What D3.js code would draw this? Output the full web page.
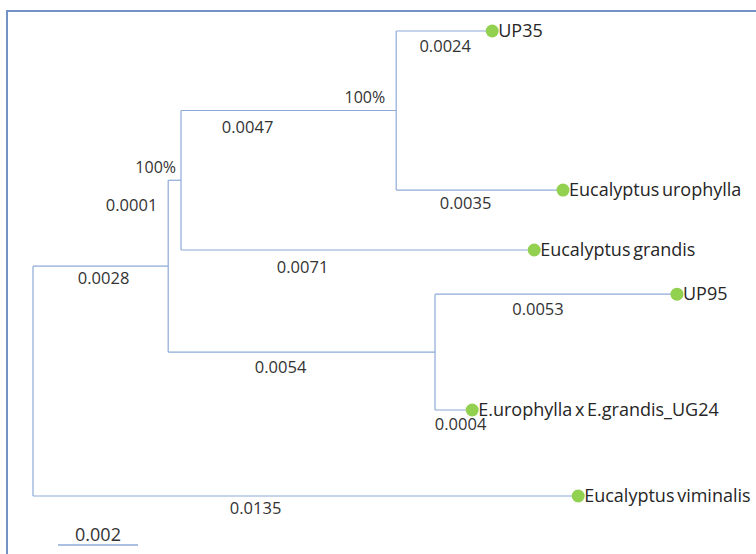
<!DOCTYPE html>
<html>
<head>
<meta charset="utf-8">
<script src="https://cdn.jsdelivr.net/npm/d3@7"></script>
<style>
  html, body { margin: 0; padding: 0; background: #ffffff; }
  svg { display: block; }
</style>
</head>
<body>
<svg id="chart" width="756" height="554"></svg>
<script>
// ---------------- DATA ----------------
// tree nodes (internal + leaves)
const nodeIds      = ["root", "A", "B", "C", "UP35", "Eucalyptus urophylla", "Eucalyptus grandis", "D", "UP95", "E.urophylla x E.grandis_UG24", "Eucalyptus viminalis"];
const parentIds    = ["",     "root", "A", "B", "C", "C", "B", "A", "D", "D", "root"];
// branch length labels as printed on the tree
const branchLength = [null, 0.0028, 0.0001, 0.0047, 0.0024, 0.0035, 0.0071, 0.0054, 0.0053, 0.0004, 0.0135];
// distance from root as drawn in the picture (substitutions/site)
const drawnDepth   = [0, 0.00338, 0.0037, 0.00908, 0.01148, 0.01325, 0.01253, 0.01005, 0.0161, 0.01098, 0.01363];
// bootstrap support
const bootstrap    = [null, null, "100%", "100%", null, null, null, null, null, null, null];
// vertical row of each leaf as drawn (0 = top, 10 = bottom)
const leafNames    = ["UP35", "Eucalyptus urophylla", "Eucalyptus grandis", "UP95", "E.urophylla x E.grandis_UG24", "Eucalyptus viminalis"];
const leafRow      = [0, 3.42, 4.71, 5.66, 8.15, 10];
// scale bar
const scaleBarValue = 0.002;
const scaleBarLabel = "0.002";

// ---------------- LAYOUT / STYLE ----------------
const W = 756, H = 554;
const lineColor = "#8eaad8";
const frameColor = "#7393c6";
const dotColor = "#92d050";
const textColor = "#333333";
const font = "'Open Sans', Lato, sans-serif";

// label nudges (px) for branch-length labels: dx from branch midpoint, dy below branch
const nudge = {
  "A": [3, 12], "B": [-43, 25], "C": [-41, 17], "UP35": [1, 15],
  "Eucalyptus urophylla": [-14, 13], "Eucalyptus grandis": [-55, 17],
  "D": [-21, 15], "UP95": [-18, 15], "E.urophylla x E.grandis_UG24": [7, 14],
  "Eucalyptus viminalis": [-50, 12]
};
const bootNudge = { "B": [-5, -13], "C": [-11, -13] };

const x = d3.scaleLinear().domain([0, 0.0161]).range([33, 677]);
const y = d3.scaleLinear().domain([0, 10]).range([31, 496]);

const table = nodeIds.map((id, i) => ({
  id, parent: parentIds[i] || null, bl: branchLength[i], depth: drawnDepth[i], boot: bootstrap[i]
}));
const root = d3.stratify().id(d => d.id).parentId(d => d.parent)(table);

// leaf ordering/position
const rowOf = new Map(leafNames.map((n, i) => [n, leafRow[i]]));
root.eachAfter(n => {
  n.px = x(n.data.depth);
  if (!n.children) n.py = y(rowOf.get(n.id));
  else n.py = d3.mean([d3.min(n.children, c => c.py), d3.max(n.children, c => c.py)]);
});

const svg = d3.select("#chart");
svg.append("rect").attr("width", W).attr("height", H).attr("fill", "#fff");

// frame
svg.append("rect")
  .attr("x", 7).attr("y", 11).attr("width", 900).attr("height", 700)
  .attr("fill", "none").attr("stroke", frameColor).attr("stroke-width", 2);

const g = svg.append("g");

// vertical connectors
root.each(n => {
  if (n.children) {
    const ys = n.children.map(c => c.py);
    g.append("line")
      .attr("x1", n.px).attr("x2", n.px)
      .attr("y1", d3.min(ys)).attr("y2", d3.max(ys))
      .attr("stroke", lineColor).attr("stroke-width", 1.2);
  }
});
// horizontal branches
root.descendants().filter(n => n.parent).forEach(n => {
  g.append("line")
    .attr("x1", n.parent.px).attr("x2", n.px)
    .attr("y1", n.py).attr("y2", n.py)
    .attr("stroke", lineColor).attr("stroke-width", 1.2);
});

// branch length labels
root.descendants().filter(n => n.parent).forEach(n => {
  const nd = nudge[n.id] || [0, 14];
  g.append("text")
    .attr("x", (n.parent.px + n.px) / 2 + nd[0])
    .attr("y", n.py + nd[1])
    .attr("dy", "0.35em")
    .attr("text-anchor", "middle")
    .attr("font-family", font).attr("font-size", 16.5)
    .attr("fill", textColor)
    .text(d3.format(".4f")(n.data.bl));
});

// bootstrap labels
root.descendants().filter(n => n.data.boot).forEach(n => {
  const nd = bootNudge[n.id] || [-5, -13];
  g.append("text")
    .attr("x", n.px + nd[0]).attr("y", n.py + nd[1])
    .attr("dy", "0.35em")
    .attr("text-anchor", "end")
    .attr("font-family", font).attr("font-size", 16)
    .attr("fill", textColor)
    .text(n.data.boot);
});

// leaves
root.leaves().forEach(n => {
  g.append("circle")
    .attr("cx", n.px).attr("cy", n.py).attr("r", 6.5)
    .attr("fill", dotColor);
  g.append("text")
    .attr("x", n.px + 6).attr("y", n.py)
    .attr("dy", "0.35em")
    .attr("font-family", font).attr("font-size", 18)
    .attr("word-spacing", "-2")
    .attr("fill", "#262626")
    .text(n.id);
});

// scale bar
const sbx0 = 58;
const sbx1 = sbx0 + (x(scaleBarValue) - x(0));
svg.append("line")
  .attr("x1", sbx0).attr("x2", sbx1).attr("y1", 545).attr("y2", 545)
  .attr("stroke", lineColor).attr("stroke-width", 1.5);
svg.append("text")
  .attr("x", (sbx0 + sbx1) / 2).attr("y", 535)
  .attr("dy", "0.35em").attr("text-anchor", "middle")
  .attr("font-family", font).attr("font-size", 18)
  .attr("fill", textColor)
  .text(scaleBarLabel);
</script>
</body>
</html>
